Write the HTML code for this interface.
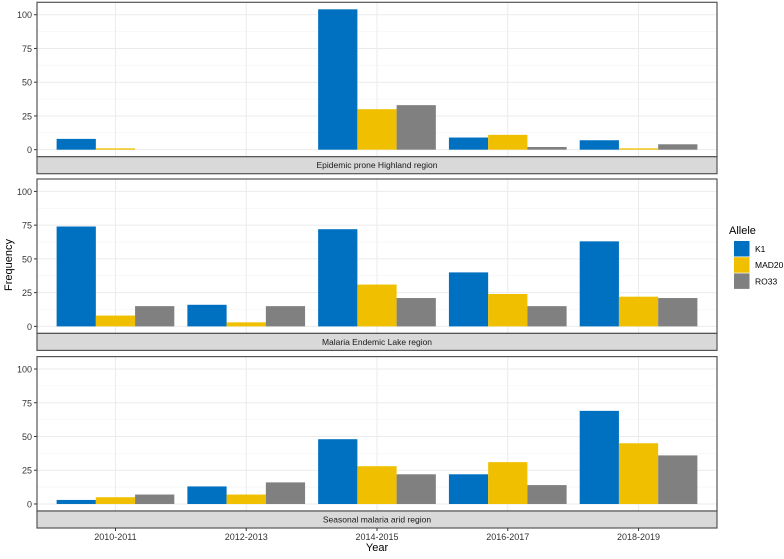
<!DOCTYPE html>
<html><head><meta charset="utf-8"><style>
body{margin:0;background:#fff;font-family:"Liberation Sans",sans-serif}
svg text{font-family:"Liberation Sans",sans-serif}
</style></head><body>
<svg id="c" width="784" height="554" xmlns="http://www.w3.org/2000/svg"></svg>
<script>
const categories=["2010-2011","2012-2013","2014-2015","2016-2017","2018-2019"];
const regions=["Epidemic prone  Highland region","Malaria Endemic Lake region","Seasonal malaria arid region"];
const alleles=["K1","MAD20","RO33"];
const colors=["#0070C0","#F0C000","#808080"];
const highlandK1=[8,0,104,9,7];
const highlandMAD20=[1,0,30,11,1];
const highlandRO33=[0,0,33,2,4];
const lakeK1=[74,16,72,40,63];
const lakeMAD20=[8,3,31,24,22];
const lakeRO33=[15,15,21,15,21];
const aridK1=[3,13,48,22,69];
const aridMAD20=[5,7,28,31,45];
const aridRO33=[7,16,22,14,36];
const yTicks=[0,25,50,75,100];
const series=[[highlandK1,highlandMAD20,highlandRO33],[lakeK1,lakeMAD20,lakeRO33],[aridK1,aridMAD20,aridRO33]];

const svg=document.getElementById('c');
const NS="http://www.w3.org/2000/svg";
function mk(t,a,p){const e=document.createElementNS(NS,t);for(const k in a)e.setAttribute(k,a[k]);(p||svg).appendChild(e);return e;}
const L=37,R=717;
const unit=(R-L)/5.2;
const x=i=>L+(0.6+i)*unit;
const panelTops=[2.3,179,356.6];
const ymin=-5.2,ymax=109.2;
const ph=154.4;
panelTops.forEach((top,p)=>{
  const y=v=>top+(ymax-v)/(ymax-ymin)*ph;
  const g=mk('g',{});
  
  
  mk('rect',{x:L,y:top,width:R-L,height:ph,fill:'#fff'},g);
  for(let v=12.5;v<=100;v+=25){mk('line',{x1:L,x2:R,y1:y(v),y2:y(v),stroke:'#f3f3f3','stroke-width':0.6},g);}
  yTicks.forEach(v=>{
    mk('line',{x1:L,x2:R,y1:y(v),y2:y(v),stroke:'#ebebeb','stroke-width':1},g);
    mk('line',{x1:L-3,x2:L,y1:y(v),y2:y(v),stroke:'#333','stroke-width':1},g);
    const t=mk('text',{x:L-5,y:y(v)+3.5,'font-size':9,'text-anchor':'end',fill:'#333'},g);
    t.textContent=v;
    
    
  });
  categories.forEach((c,i)=>mk('line',{x1:x(i),x2:x(i),y1:top,y2:top+ph,stroke:'#ebebeb','stroke-width':1},g));
  const bw=0.9*unit/3;
  series[p].forEach((arr,s)=>{
    arr.forEach((v,i)=>{
      const bx=x(i)-0.45*unit+s*bw;
      const r=mk('rect',{x:bx,y:y(v),width:bw,height:Math.max(0,y(0)-y(v)),fill:colors[s]},g);
      
      
    });
  });
  mk('rect',{x:L,y:top,width:R-L,height:ph,fill:'none',stroke:'#555','stroke-width':1.2},g);
  const st=mk('rect',{x:L,y:top+ph,width:R-L,height:17,fill:'#d9d9d9',stroke:'#555','stroke-width':1.2},g);
  
  
  const tt=mk('text',{x:(L+R)/2,y:top+ph+11.5,'font-size':8.5,'text-anchor':'middle',fill:'#1a1a1a'},g);
  tt.textContent=regions[p];
  
  
});
categories.forEach((c,i)=>{
  mk('line',{x1:x(i),x2:x(i),y1:528,y2:531,stroke:'#333'});
  const t=mk('text',{x:x(i),y:540,'font-size':9,'text-anchor':'middle',fill:'#333'});
  t.textContent=c;
  
  
});
const xt=mk('text',{x:(L+R)/2,y:551,'font-size':11,'text-anchor':'middle',fill:'#000'});
xt.textContent='Year';


const yt=mk('text',{x:12,y:265,'font-size':11,'text-anchor':'middle',fill:'#000',transform:'rotate(-90 12 265)'});
yt.textContent='Frequency';


const lt=mk('text',{x:729,y:234,'font-size':11,fill:'#000'});
lt.textContent='Allele';


alleles.forEach((a,s)=>{
  const r=mk('rect',{x:734,y:241+s*16.2,width:15.5,height:15.5,fill:colors[s]});
  
  
  const t=mk('text',{x:755,y:252+s*16.2,'font-size':8.5,fill:'#000'});
  t.textContent=a;
  
  
});
</script>
</body></html>
